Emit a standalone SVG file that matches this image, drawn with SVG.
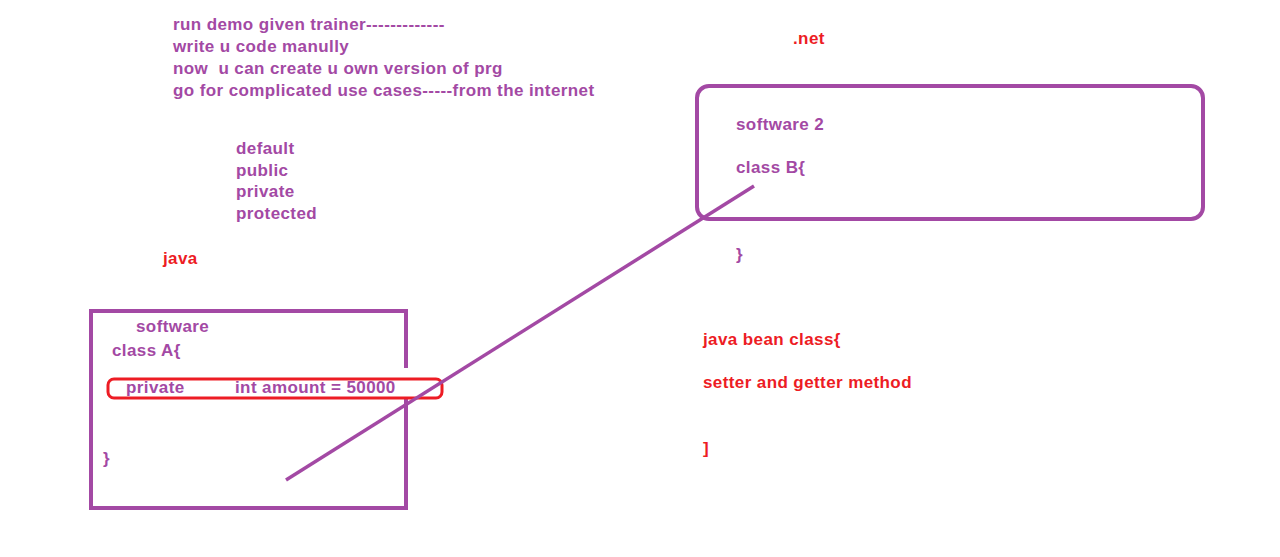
<svg xmlns="http://www.w3.org/2000/svg" width="1280" height="557" viewBox="0 0 1280 557">
<style>
text{font-family:"Liberation Sans",Arial,sans-serif;font-size:17px;font-weight:bold;letter-spacing:0.4px}
.p{fill:#a349a4}
.r{fill:#ed1c24}
.box{fill:none;stroke:#a349a4;stroke-width:4}
</style>
<rect width="1280" height="557" fill="#ffffff"/>
<g id="notes">
<text class="p" x="173" y="30">run demo given trainer-------------</text>
<text class="p" x="173" y="52">write u code manully</text>
<text class="p" x="173" y="74" xml:space="preserve">now  u can create u own version of prg</text>
<text class="p" x="173" y="96">go for complicated use cases-----from the internet</text>
</g>
<g id="modifiers">
<text class="p" x="236" y="154">default</text>
<text class="p" x="236" y="176">public</text>
<text class="p" x="236" y="197">private</text>
<text class="p" x="236" y="219">protected</text>
</g>
<text id="java" class="r" x="163" y="264">java</text>
<text id="net" class="r" x="793" y="44">.net</text>
<g id="software2">
<rect class="box" x="697" y="86" width="506" height="133" rx="12"/>
<text class="p" x="736" y="130">software 2</text>
<text class="p" x="736" y="173">class B{</text>
<text class="p" x="736" y="260">}</text>
</g>
<g id="javabean">
<text class="r" x="703" y="345">java bean class{</text>
<text class="r" x="703" y="388">setter and getter method</text>
<text class="r" x="703" y="454">]</text>
</g>
<g id="software">
<path class="box" d="M406,368 V311 H91 V508 H406 V397"/>
<text class="p" x="136" y="332">software</text>
<text class="p" x="112" y="356">class A{</text>
<text class="p" x="126" y="393">private</text>
<text class="p" x="235" y="393">int amount = 50000</text>
<text class="p" x="103" y="464">}</text>
<rect x="108" y="379" width="334" height="19" rx="6" fill="none" stroke="#ed1c24" stroke-width="3"/>
</g>
<g id="connectors">
<line x1="286" y1="480" x2="754" y2="186" stroke="#a349a4" stroke-width="3.5"/>
</g>
</svg>
